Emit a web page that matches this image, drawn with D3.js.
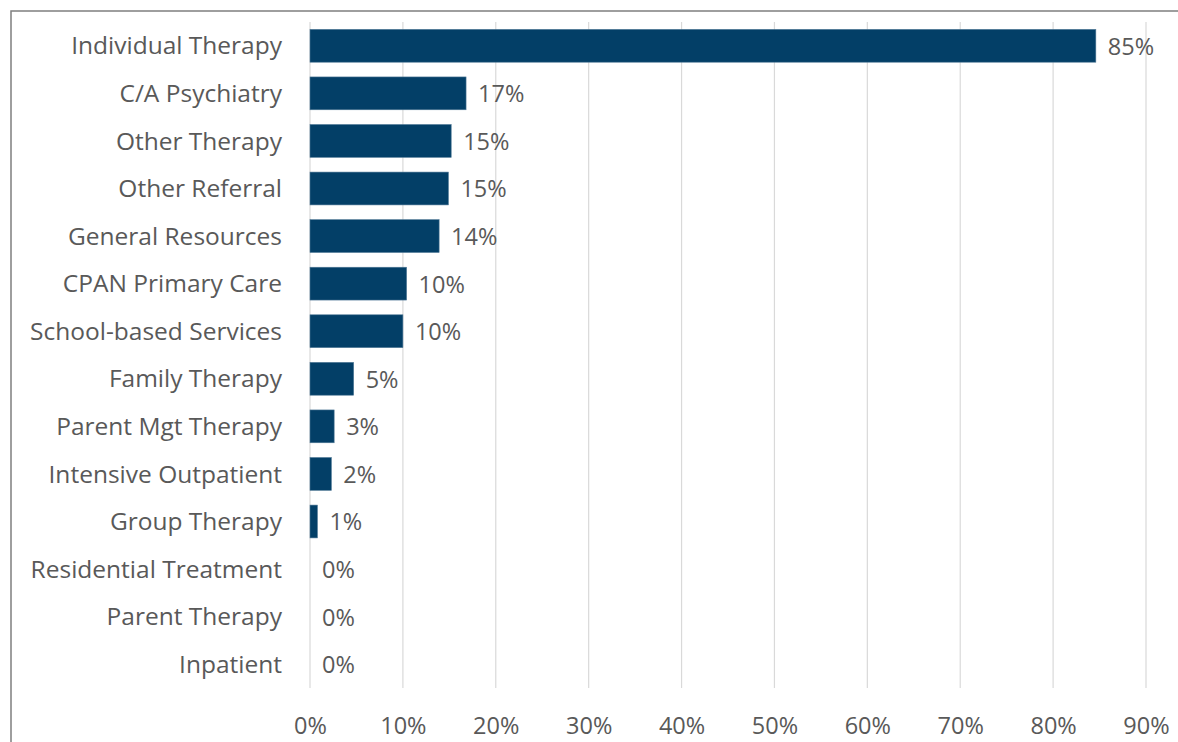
<!DOCTYPE html>
<html>
<head>
<meta charset="utf-8">
<script src="https://cdn.jsdelivr.net/npm/d3@7"></script>
<style>
  html, body { margin: 0; padding: 0; background: #ffffff; }
  svg { display: block; }
  text { font-family: "Open Sans", Lato, sans-serif; fill: #595959; }
</style>
</head>
<body>
<svg id="chart" width="1178" height="742"></svg>
<script>
// Share of referrals by service type (fraction of cases)
const categories = [
  "Individual Therapy", "C/A Psychiatry", "Other Therapy", "Other Referral",
  "General Resources", "CPAN Primary Care", "School-based Services",
  "Family Therapy", "Parent Mgt Therapy", "Intensive Outpatient",
  "Group Therapy", "Residential Treatment", "Parent Therapy", "Inpatient"
];
const values = [
  0.846, 0.168, 0.152, 0.149, 0.139, 0.104, 0.100,
  0.047, 0.026, 0.023, 0.008, 0, 0, 0
];
const xTicks = [0, 0.1, 0.2, 0.3, 0.4, 0.5, 0.6, 0.7, 0.8, 0.9];

const FONT = "'Open Sans', Lato, sans-serif";
const svg = d3.select("#chart");
const W = 1178, H = 742;
const plot = { left: 310, right: 1146, top: 22, bottom: 688 };

// outer chart frame (runs past the right and bottom edges)
svg.append("rect")
  .attr("x", 11).attr("y", 11)
  .attr("width", W + 20).attr("height", H + 20)
  .attr("fill", "none").attr("stroke", "#7f7f7f").attr("stroke-width", 1.5);

const x = d3.scaleLinear().domain([0, 0.9]).range([plot.left, plot.right]);
const y = d3.scaleBand().domain(categories).range([plot.top, plot.bottom]).paddingInner(0.31).paddingOuter(0.155);

// vertical gridlines
svg.append("g")
  .selectAll("line").data(xTicks).join("line")
  .attr("x1", d => x(d)).attr("x2", d => x(d))
  .attr("y1", plot.top).attr("y2", plot.bottom)
  .attr("stroke", "#d9d9d9").attr("stroke-width", 1.2);

// x axis labels
const xAxis = d3.axisBottom(x).tickValues(xTicks).tickFormat(d3.format(".0%")).tickSize(0).tickPadding(0);
const gx = svg.append("g").attr("transform", `translate(0,${plot.bottom})`).call(xAxis);
gx.select(".domain").remove();
gx.selectAll("text")
  .attr("y", 46).attr("dy", null)
  .style("font-size", "23.5px").style("fill", "#595959")
  .style("font-family", FONT);

// category axis labels
const yAxis = d3.axisLeft(y).tickSize(0).tickPadding(28);
const gy = svg.append("g").attr("transform", `translate(${plot.left},0)`).call(yAxis);
gy.select(".domain").remove();
gy.selectAll("text")
  .attr("dy", "0.35em")
  .style("font-size", "24.5px").style("fill", "#595959")
  .style("font-family", FONT);

// bars
svg.append("g")
  .selectAll("rect").data(categories).join("rect")
  .attr("x", x(0))
  .attr("y", d => y(d))
  .attr("width", (d, i) => x(values[i]) - x(0))
  .attr("height", y.bandwidth())
  .attr("fill", "#033f67")
  .attr("stroke", (d, i) => values[i] > 0 ? "#4f7896" : "none")
  .attr("stroke-width", 0.6);

// value labels
const fmt = d3.format(".0%");
svg.append("g")
  .selectAll("text").data(categories).join("text")
  .attr("x", (d, i) => x(values[i]) + 12)
  .attr("y", d => y(d) + y.bandwidth() / 2)
  .attr("dy", "0.38em")
  .style("font-size", "23.5px")
  .style("font-family", FONT)
  .text((d, i) => fmt(values[i]));
</script>
</body>
</html>
